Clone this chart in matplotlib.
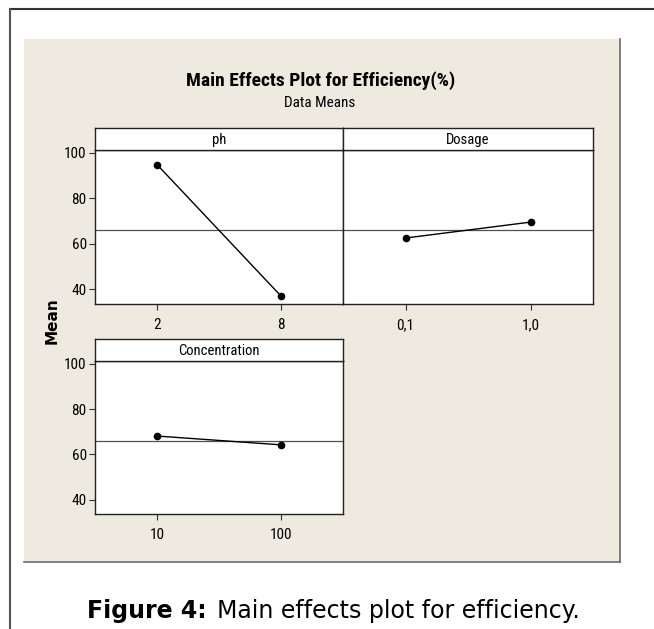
import numpy as np
import matplotlib
matplotlib.use('Agg')
import matplotlib.pyplot as plt
from matplotlib.patches import Rectangle
from matplotlib.lines import Line2D

factors = ['ph', 'Dosage', 'Concentration']
levels = [['2', '8'], ['0,1', '1,0'], ['10', '100']]
means = [[94.9, 37.1], [62.6, 69.6], [68.1, 64.2]]
grand_mean = 66.0
yticks = [40, 60, 80, 100]

NARROW = ['Roboto Condensed', 'Liberation Sans Narrow', 'Roboto', 'DejaVu Sans']
W, H = 654, 629

def box(x0, y0, x1, y1):
    # pixel box (top-left origin) -> figure fraction
    return [x0 / W, 1 - y1 / H, (x1 - x0) / W, (y1 - y0) / H]

fig = plt.figure(figsize=(W / 100, H / 100), dpi=100)
fig.patch.set_facecolor('white')

# beige minitab background + shadow edges
fig.add_artist(Rectangle((24 / W, 1 - 562 / H), 596 / W, 523 / H,
                         transform=fig.transFigure, facecolor='#eeeae0',
                         edgecolor='none', zorder=0))
fig.add_artist(Line2D([620 / W, 620 / W], [1 - 39 / H, 1 - 562 / H],
                      transform=fig.transFigure, color='#6a6a6a', lw=1.2))
fig.add_artist(Line2D([24 / W, 620 / W], [1 - 562 / H, 1 - 562 / H],
                      transform=fig.transFigure, color='#6a6a6a', lw=1.2))
# outer frame
fig.add_artist(Line2D([10 / W, 1], [1 - 9 / H, 1 - 9 / H],
                      transform=fig.transFigure, color='#333333', lw=1.5))
fig.add_artist(Line2D([10 / W, 10 / W], [0, 1 - 9 / H],
                      transform=fig.transFigure, color='#555555', lw=1.5))

panels = [(95, 128, 343, 304), (343, 128, 593, 304), (95, 339, 343, 514)]
strip_h = 22

for i, (x0, y0, x1, y1) in enumerate(panels):
    ax = fig.add_axes(box(x0, y0 + strip_h, x1, y1))
    sx = fig.add_axes(box(x0, y0, x1, y0 + strip_h))
    sx.set_xticks([])
    sx.set_yticks([])
    sx.text(0.5, 0.45, factors[i], ha='center', va='center', fontsize=10.5,
            family=NARROW, transform=sx.transAxes)
    x = np.arange(1, len(levels[i]) + 1)
    ax.axhline(grand_mean, color='#505050', lw=0.9, zorder=1)
    ax.plot(x, means[i], color='black', lw=1.0, marker='o', ms=4.5,
            zorder=3)
    ax.set_xlim(0.5, 2.5)
    ax.set_ylim(33.6, 101.3)
    ax.set_xticks(x)
    ax.set_xticklabels(levels[i], family=NARROW, fontsize=11)
    ax.set_yticks(yticks)
    ax.tick_params(axis='x', length=4, width=0.8, pad=6, color='#333333')
    if i == 1:
        ax.tick_params(axis='y', length=0, labelleft=False)
    else:
        ax.set_yticklabels([str(v) for v in yticks], family=NARROW, fontsize=11)
        ax.tick_params(axis='y', length=4, width=0.8, pad=2, color='#333333')
    for a in (ax, sx):
        for s in a.spines.values():
            s.set_color('#222222')
            s.set_linewidth(1.0)

fig.text(321 / W, 1 - 81 / H, 'Main Effects Plot for Efficiency(%)',
         ha='center', va='center', fontsize=14, fontweight='bold',
         family=NARROW)
fig.text(320 / W, 1 - 103 / H, 'Data Means', ha='center', va='center',
         fontsize=11, family=NARROW)
fig.text(52 / W, 1 - 321 / H, 'Mean', ha='center', va='center',
         rotation=90, fontsize=11, fontweight='bold', family='DejaVu Sans')

# caption: bold label followed by plain text
cap_y = 1 - 617.7 / H
t1 = fig.text(87 / W, cap_y, 'Figure 4:', ha='left', va='baseline',
              fontsize=17, fontweight='bold', family='DejaVu Sans')
fig.canvas.draw()
bb = t1.get_window_extent()
fig.text(bb.x1 / W + 10 / W, cap_y, 'Main effects plot for efficiency.',
         ha='left', va='baseline', fontsize=17, family='DejaVu Sans')

fig.savefig('out.png', dpi=100)
